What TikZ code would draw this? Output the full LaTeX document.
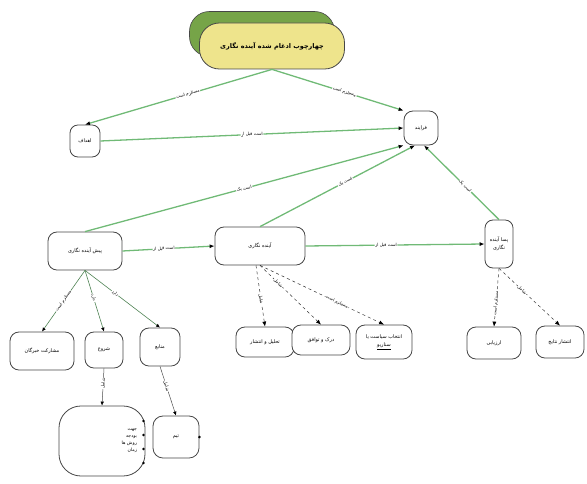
\documentclass[tikz,border=0pt]{standalone}
\usepackage{fontspec}
\usetikzlibrary{arrows.meta}
\TeXXeTstate=1
\newfontfamily\fa[Script=Arabic]{DejaVu Sans}
\newcommand{\rl}[1]{\beginR #1\endR}
\definecolor{edgegreen}{RGB}{112,186,118}
\definecolor{titlefill}{RGB}{238,228,140}
\definecolor{shadowgreen}{RGB}{118,164,72}
\definecolor{boxline}{RGB}{70,70,70}
\tikzset{
  box/.style={draw=boxline, line width=0.8pt, rounded corners=9pt, fill=white,
    align=center, inner sep=2pt, font=\fa\fontsize{5}{8}\selectfont},
  gline/.style={draw=edgegreen, line width=1.3pt, -{Latex[length=5pt,width=4pt,black]}},
  sline/.style={draw=edgegreen!70!black, line width=0.6pt, -{Latex[length=4pt,width=3.5pt,black]}},
  dline/.style={draw=black!80, line width=0.5pt, dashed, -{Latex[length=5pt,width=4pt,black]}},
  thinline/.style={draw=black!70, line width=0.5pt, -{Latex[length=4pt,width=3.5pt,black]}},
  lbl/.style={font=\fa\fontsize{4.3}{5}\selectfont, fill=white, inner sep=0.6pt, sloped},
}
\begin{document}
\begin{tikzpicture}[x=1bp,y=-1bp]
\useasboundingbox (0,0) rectangle (587,484);

% title with its green extrusion
\node[draw=boxline, line width=0.6pt, fill=shadowgreen, rounded corners=20pt,
      minimum width=145bp, minimum height=45bp] (titleshade) at (262,34) {};
\node[draw=boxline, line width=0.8pt, fill=titlefill, rounded corners=20pt,
      minimum width=145bp, minimum height=46bp,
      font=\fa\bfseries\fontsize{6.5}{8}\selectfont] (title) at (272,46)
      {\rl{چهارچوب ادغام شده آینده نگاری}};

% main phases
\node[box, minimum width=34bp, minimum height=34bp] (process) at (421,128) {\rl{فرایند}};
\node[box, minimum width=30bp, minimum height=32bp, rounded corners=8pt] (goals) at (85,141) {\rl{اهداف}};
\node[box, minimum width=74bp, minimum height=38bp] (pre) at (85,251) {\rl{پیش آینده نگاری}};
\node[box, minimum width=90bp, minimum height=38bp] (fore) at (260,246) {\rl{آینده نگاری}};
\node[box, minimum width=28bp, minimum height=48bp, rounded corners=8pt] (post) at (499,244)
      {\rl{پسا آینده}\\\rl{نگاری}};

% children of pre-foresight
\node[box, minimum width=64bp, minimum height=38bp] (experts) at (42,351) {\rl{مشارکت خبرگان}};
\node[box, minimum width=38bp, minimum height=36bp] (start) at (104,350) {\rl{شروع}};
\node[box, minimum width=40bp, minimum height=38bp] (resources) at (160,347) {\rl{منابع}};
\node[box, minimum width=86bp, minimum height=70bp, rounded corners=22pt, align=right,
      text width=70bp, font=\fa\fontsize{4.6}{7}\selectfont] (items) at (102,441)
      {\rl{جهت}\\\rl{بودجه}\\\rl{روش ها}\\\rl{زمان}};
\node[box, minimum width=46bp, minimum height=42bp, rounded corners=10pt] (team) at (176,437) {\rl{تیم}};

% bullets on the right edge of the list box and the team box
\foreach \yy in {421,435,449,463}
  \fill[black] (143.5,\yy) circle (1.4bp);
\fill[black] (team.east) circle (1.4bp);

% children of foresight
\node[box, minimum width=58bp, minimum height=30bp] (analysis) at (265,342) {\rl{تحلیل و انتشار}};
\node[box, minimum width=58bp, minimum height=30bp] (consensus) at (321,340) {\rl{درک و توافق}};
\node[box, minimum width=56bp, minimum height=34bp] (choice) at (384,342) {\rl{انتخاب سیاست یا}\\\underline{\rl{سناریو}}};

% children of post-foresight
\node[box, minimum width=54bp, minimum height=32bp] (evaluation) at (494,343) {\rl{ارزیابی}};
\node[box, minimum width=48bp, minimum height=32bp] (dissemination) at (560,342) {\rl{انتشار نتایج}};

% connectors between the main phases
\draw[gline] (title.south) -- node[lbl, pos=0.45] {\rl{مستلزم است}} (goals.north);
\draw[gline] (title.south) -- node[lbl, pos=0.55] {\rl{مستلزم است}} (process.north west);
\draw[gline] (goals.east) -- node[lbl] {\rl{است قبل از}} (process.west);
\draw[gline] (pre.north) -- node[lbl, pos=0.5] {\rl{است یک}} (process.south west);
\draw[gline] (fore.north) -- node[lbl, pos=0.55] {\rl{است یک}} ([xshift=-6bp]process.south);
\draw[gline] (post.north) -- node[lbl, pos=0.45] {\rl{است یک}} ([xshift=3bp]process.south);
\draw[gline] (pre.east) -- node[lbl, pos=0.45] {\rl{است قبل از}} (fore.west);
\draw[gline] (fore.east) -- node[lbl, pos=0.45] {\rl{است قبل از}} (post.west);

% connectors under pre-foresight
\draw[sline] (pre.south) -- node[lbl, pos=0.5] {\rl{مستلزم است}} (experts.north);
\draw[sline] (pre.south) -- node[lbl, pos=0.45] {\rl{دارد}} (start.north);
\draw[sline] (pre.south) -- node[lbl, pos=0.4] {\rl{دارد}} (resources.north);
\draw[thinline] (start.south) -- node[lbl, pos=0.4] {\rl{شامل}} (items.north);
\draw[thinline] (resources.south) -- node[lbl, pos=0.4] {\rl{شامل}} (team.north);

% connectors under foresight
\draw[dline] ([xshift=-4bp]fore.south) -- node[lbl, pos=0.55] {\rl{شامل}} (analysis.north);
\draw[dline] (fore.south) -- node[lbl, pos=0.3] {\rl{شامل}} (consensus.north);
\draw[dline] (fore.south) -- node[lbl, pos=0.62] {\rl{مستلزم است}} (choice.north);

% connectors under post-foresight
\draw[dline] (post.south) -- node[lbl, pos=0.6] {\rl{مستلزم است}} (evaluation.north);
\draw[dline] (post.south) -- node[lbl, pos=0.38] {\rl{شامل}} (dissemination.north);
\end{tikzpicture}
\end{document}
